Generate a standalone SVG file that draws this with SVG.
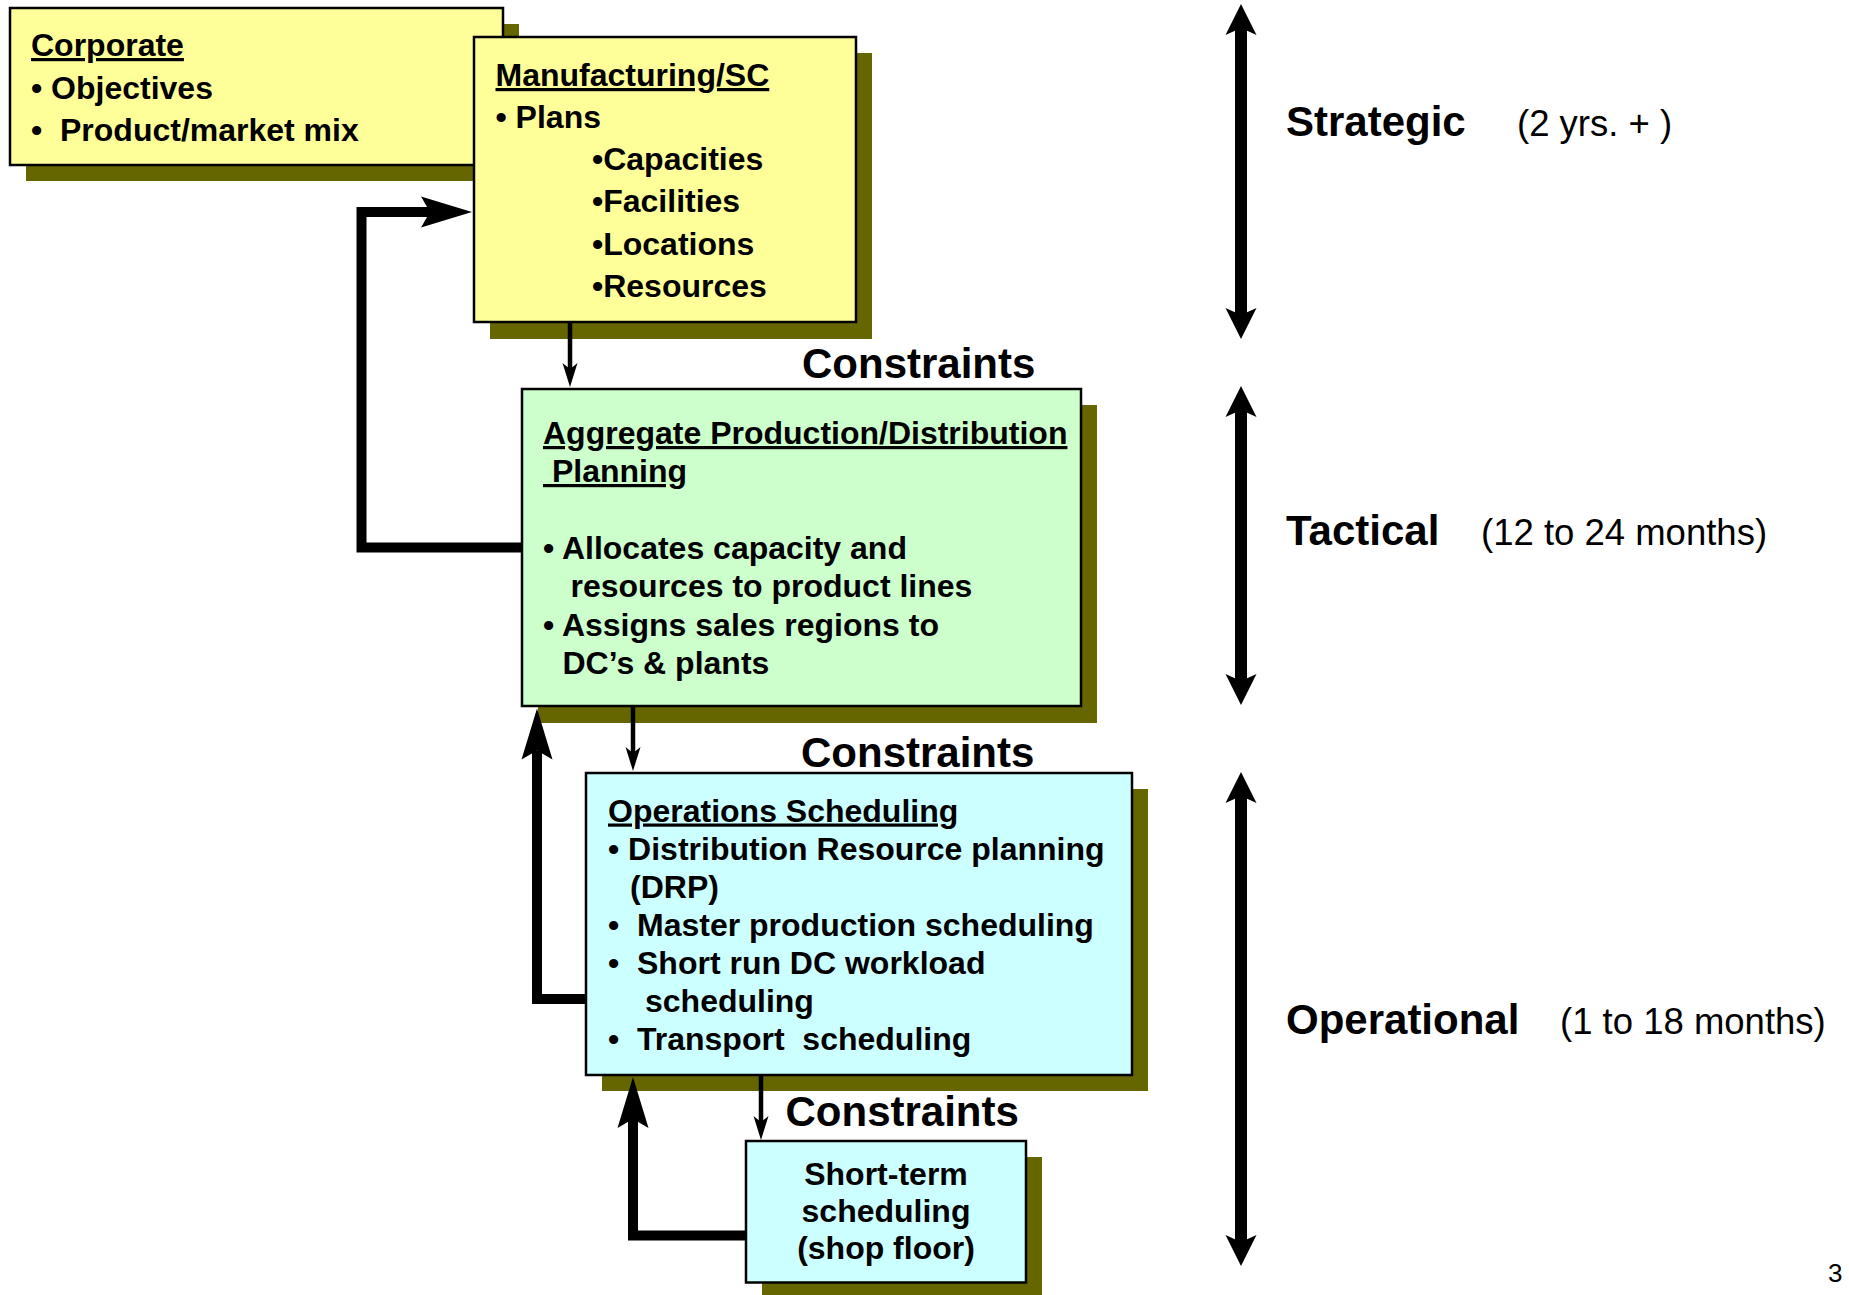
<svg xmlns="http://www.w3.org/2000/svg" width="1849" height="1295" viewBox="0 0 1849 1295">
<style>
  .shadow { fill: #666600; }
  .box { stroke: #000; stroke-width: 2.5; }
  .yellow { fill: #FFFF99; }
  .green { fill: #CCFFCC; }
  .cyan { fill: #CCFFFF; }
  text { font-family: "Liberation Sans", Arial, sans-serif; fill: #000; }
  .t { font-size: 32px; font-weight: bold; }
  .u { text-decoration: underline; }
  .lbl { font-size: 42px; font-weight: bold; }
  .sub { font-size: 36.5px; }
  .thick { fill: none; stroke: #000; stroke-width: 10; stroke-linejoin: miter; }
  .thin { fill: none; stroke: #000; stroke-width: 4.5; }
  .span { fill: none; stroke: #000; stroke-width: 12; }
</style>
<defs>
  <marker id="thickHead" markerUnits="userSpaceOnUse" viewBox="-55 -17 57 34" markerWidth="57" markerHeight="34" refX="-42" refY="0" orient="auto">
    <path d="M0,0 L-51,-15.5 L-42,0 L-51,15.5 Z" fill="#000"/>
  </marker>
  <marker id="thinHead" markerUnits="userSpaceOnUse" viewBox="-26 -9 28 18" markerWidth="28" markerHeight="18" refX="-18" refY="0" orient="auto">
    <path d="M0,0 L-24,-7.5 L-18,0 L-24,7.5 Z" fill="#000"/>
  </marker>
  <marker id="bigHead" markerUnits="userSpaceOnUse" viewBox="-33 -17 35 34" markerWidth="35" markerHeight="34" refX="-24" refY="0" orient="auto-start-reverse">
    <path d="M0,0 L-31,-15.5 L-24,0 L-31,15.5 Z" fill="#000"/>
  </marker>
</defs>
<rect width="1849" height="1295" fill="#fff"/>

<g id="corporate">
  <rect class="shadow" x="26" y="24" width="493" height="157"/>
  <rect class="box yellow" x="10" y="8" width="493" height="157"/>
  <text class="t u" x="31" y="56">Corporate</text>
  <text class="t" x="31" y="98.5">• Objectives</text>
  <text class="t" x="31" y="140.5" xml:space="preserve">•  Product/market mix</text>
</g>

<g id="manufacturing">
  <rect class="shadow" x="490" y="53" width="382" height="286"/>
  <rect class="box yellow" x="474" y="37" width="382" height="285"/>
  <text class="t u" x="495.5" y="86">Manufacturing/SC</text>
  <text class="t" x="495.5" y="128">• Plans</text>
  <text class="t" x="592" y="170">•Capacities</text>
  <text class="t" x="592" y="212">•Facilities</text>
  <text class="t" x="592" y="254.5">•Locations</text>
  <text class="t" x="592" y="296.5">•Resources</text>
</g>

<g id="aggregate">
  <rect class="shadow" x="538" y="405" width="559" height="318"/>
  <rect class="box green" x="522" y="389" width="559" height="317"/>
  <text class="t u" x="543" y="444">Aggregate Production/Distribution</text>
  <text class="t u" x="543" y="482" xml:space="preserve"> Planning</text>
  <text class="t" x="543" y="559">• Allocates capacity and</text>
  <text class="t" x="570.5" y="597">resources to product lines</text>
  <text class="t" x="543" y="636">• Assigns sales regions to</text>
  <text class="t" x="562.5" y="674">DC’s &amp; plants</text>
</g>

<g id="operations">
  <rect class="shadow" x="602" y="789" width="546" height="302"/>
  <rect class="box cyan" x="586" y="773" width="546" height="302"/>
  <text class="t u" x="608" y="821.5">Operations Scheduling</text>
  <text class="t" x="608" y="859.5">• Distribution Resource planning</text>
  <text class="t" x="630" y="897.5">(DRP)</text>
  <text class="t" x="608" y="935.5" xml:space="preserve">•  Master production scheduling</text>
  <text class="t" x="608" y="973.5" xml:space="preserve">•  Short run DC workload</text>
  <text class="t" x="645" y="1012">scheduling</text>
  <text class="t" x="608" y="1050" xml:space="preserve">•  Transport  scheduling</text>
</g>

<g id="shortterm">
  <rect class="shadow" x="762" y="1157" width="280" height="142"/>
  <rect class="box cyan" x="746" y="1141" width="280" height="141.5"/>
  <text class="t" x="886" y="1185" text-anchor="middle">Short-term</text>
  <text class="t" x="886" y="1222" text-anchor="middle">scheduling</text>
  <text class="t" x="886" y="1259" text-anchor="middle">(shop floor)</text>
</g>

<g id="constraint-labels">
  <text class="lbl" x="802" y="378">Constraints</text>
  <text class="lbl" x="801" y="767">Constraints</text>
  <text class="lbl" x="785.5" y="1126">Constraints</text>
</g>

<g id="horizons">
  <text class="lbl" x="1286" y="136">Strategic</text>
  <text class="sub" x="1517" y="136">(2 yrs. + )</text>
  <text class="lbl" x="1286" y="545">Tactical</text>
  <text class="sub" x="1481" y="545">(12 to 24 months)</text>
  <text class="lbl" x="1286" y="1034">Operational</text>
  <text class="sub" x="1560" y="1034">(1 to 18 months)</text>
</g>

<g id="connectors">
  <path class="thin" d="M570,323 V369" marker-end="url(#thinHead)"/>
  <path class="thin" d="M633,707 V753" marker-end="url(#thinHead)"/>
  <path class="thin" d="M761,1076 V1122" marker-end="url(#thinHead)"/>
  <path class="thick" d="M522,547.5 H361.5 V212 H430" marker-end="url(#thickHead)"/>
  <path class="thick" d="M586,999 H537 V750.5" marker-end="url(#thickHead)"/>
  <path class="thick" d="M746,1235.5 H633 V1119" marker-end="url(#thickHead)"/>
  <path class="span" d="M1241,28 V315" marker-start="url(#bigHead)" marker-end="url(#bigHead)"/>
  <path class="span" d="M1241,410 V681" marker-start="url(#bigHead)" marker-end="url(#bigHead)"/>
  <path class="span" d="M1241,796 V1242" marker-start="url(#bigHead)" marker-end="url(#bigHead)"/>
</g>

<text x="1828" y="1282" font-size="26">3</text>
</svg>
